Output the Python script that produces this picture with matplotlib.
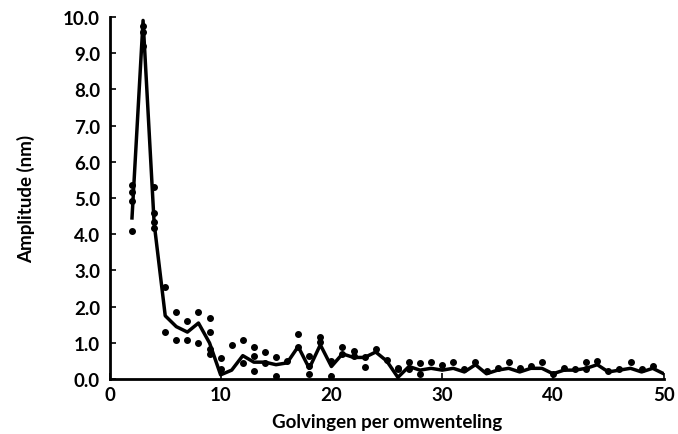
import matplotlib.pyplot as plt

# gemiddelde lijn
line_x = list(range(2, 51))
line_y = [4.45, 9.9, 4.3, 1.75, 1.45, 1.3, 1.55, 1.0, 0.12, 0.25,
          0.65, 0.47, 0.47, 0.4, 0.45, 0.9, 0.3, 0.95, 0.35, 0.7,
          0.6, 0.6, 0.75, 0.5, 0.05, 0.35, 0.25, 0.3, 0.25, 0.3,
          0.2, 0.4, 0.15, 0.25, 0.3, 0.2, 0.3, 0.3, 0.15, 0.25,
          0.25, 0.3, 0.4, 0.2, 0.25, 0.3, 0.2, 0.3, 0.15]

# losse meetpunten
pts_x = [2, 2, 2, 2, 3, 3, 3, 4, 4, 4, 4,
         5, 5, 6, 6, 7, 7, 8, 8, 9, 9, 9, 9,
         10, 10, 11, 12, 12, 13, 13, 13, 14, 14, 15, 15, 16,
         17, 17, 18, 18, 18, 19, 19, 20, 20, 21, 21, 22, 22,
         23, 23, 24, 25, 26, 26, 27, 27, 28, 28, 29, 30, 31,
         32, 33, 34, 35, 36, 37, 38, 39, 40, 41, 42, 43, 43,
         44, 45, 46, 47, 48, 49]
pts_y = [5.36, 5.16, 4.92, 4.09, 9.75, 9.58, 9.2, 5.3, 4.6, 4.34, 4.17,
         2.55, 1.3, 1.85, 1.08, 1.6, 1.08, 1.85, 1.0, 1.68, 1.3, 0.83, 0.7,
         0.58, 0.28, 0.94, 1.08, 0.44, 0.88, 0.64, 0.22, 0.74, 0.46, 0.6, 0.08, 0.5,
         1.24, 0.88, 0.64, 0.36, 0.14, 1.16, 1.02, 0.5, 0.08, 0.9, 0.69, 0.77, 0.64,
         0.6, 0.33, 0.83, 0.52, 0.3, 0.28, 0.47, 0.28, 0.44, 0.14, 0.47, 0.39, 0.47,
         0.28, 0.47, 0.22, 0.3, 0.47, 0.3, 0.36, 0.47, 0.14, 0.3, 0.28, 0.47, 0.28,
         0.5, 0.22, 0.28, 0.47, 0.28, 0.36]

x_ticks = [0, 10, 20, 30, 40, 50]
y_ticks = [0, 1, 2, 3, 4, 5, 6, 7, 8, 9, 10]

plt.rcParams['font.family'] = ['Lato', 'DejaVu Sans']

fig = plt.figure(figsize=(6.78, 4.35), dpi=100)
ax = fig.add_axes([0.162, 0.126, 0.817, 0.833])

ax.plot(line_x, line_y, color='black', lw=2.5, zorder=2)
ax.plot(pts_x, pts_y, 'o', color='black', ms=4, zorder=3)

ax.set_xlim(0, 50)
ax.set_ylim(0, 10)
ax.set_xticks(x_ticks)
ax.set_yticks(y_ticks)
ax.set_yticklabels(['%.1f' % v for v in y_ticks])
ax.tick_params(direction='in', length=4, width=1.2, labelsize=13.5)
ax.tick_params(axis='y', pad=7)
ax.tick_params(axis='x', pad=5)
for lab in ax.get_xticklabels() + ax.get_yticklabels():
    lab.set_fontweight('bold')

ax.spines['top'].set_visible(False)
ax.spines['right'].set_visible(False)
ax.spines['left'].set_linewidth(2)
ax.spines['bottom'].set_linewidth(2)

ax.set_xlabel('Golvingen per omwenteling', fontsize=13.5, fontweight='bold', labelpad=7)
ax.set_ylabel('Amplitude (nm)', fontsize=13.5, fontweight='bold', labelpad=20)

fig.savefig('out.png', dpi=100)
